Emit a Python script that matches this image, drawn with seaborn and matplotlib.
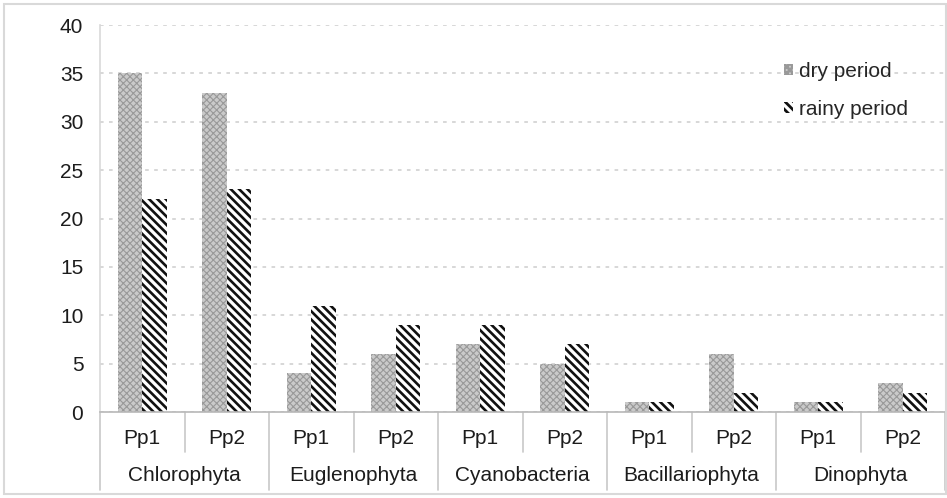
import matplotlib
matplotlib.use('Agg')
import matplotlib.pyplot as plt
import matplotlib.transforms as mtransforms
from matplotlib.patches import Rectangle
import numpy as np
import pandas as pd
import seaborn as sns

# ---- data ----
groups = ['Chlorophyta', 'Euglenophyta', 'Cyanobacteria', 'Bacillariophyta', 'Dinophyta']
sites = ['Pp1', 'Pp2']
dry = [35, 33, 4, 6, 7, 5, 1, 6, 1, 3]
rainy = [22, 23, 11, 9, 9, 7, 1, 2, 1, 2]
periods = ['dry period', 'rainy period']

keys = [f"{g}|{s}" for g in groups for s in sites]
df = pd.DataFrame({
    'key': keys * 2,
    'value': dry + rainy,
    'period': [periods[0]] * len(keys) + [periods[1]] * len(keys),
})

sns.set_style('white')
plt.rcParams['font.family'] = ['Liberation Sans', 'DejaVu Sans']
plt.rcParams['hatch.linewidth'] = 2.0

FS = 15
TXT = '#1c1c1c'

fig = plt.figure(figsize=(9.47, 4.98), dpi=100)
ax = fig.add_axes([100 / 947, 1 - 412 / 498, 845 / 947, 387 / 498])

sns.barplot(data=df, x='key', y='value', hue='period', order=keys,
            hue_order=periods, ax=ax, width=0.58, legend=False,
            palette=['#c8c8c8', 'white'])

styles = [dict(face='#cacaca', hatch='xxxxx', edge='#999999', hlw=0.8),
          dict(face='white', hatch='\\\\\\\\', edge='#111111', hlw=1.9)]

def style_patch(p, st):
    p.set_facecolor(st['face'])
    p.set_hatch(st['hatch'])
    p.set_edgecolor(st['edge'])
    p.set_linewidth(0)
    if hasattr(p, 'set_hatch_linewidth'):
        p.set_hatch_linewidth(st['hlw'])
    else:
        p._hatch_linewidth = st['hlw']

for cont, st in zip(ax.containers, styles):
    for p in cont:
        style_patch(p, st)

ax.set_xlim(-0.5, len(keys) - 0.5)
ax.set_ylim(0, 40)
ax.set_yticks(np.arange(0, 41, 5))
ax.tick_params(axis='y', length=0, labelsize=FS, pad=12, colors=TXT)
ax.yaxis.grid(True, linestyle=(0, (2, 3)), color='#d4d4d4', linewidth=1.3)
ax.set_axisbelow(True)
ax.set_xlabel('')
ax.set_ylabel('')

ax.set_xticks([])
for side in ['top', 'right']:
    ax.spines[side].set_visible(False)
ax.spines['left'].set_color('#d9d9d9')
ax.spines['bottom'].set_color('#b8b8b8')
ax.spines['left'].set_linewidth(1.2)
ax.spines['bottom'].set_linewidth(1.2)

# two-level category axis
trans = mtransforms.blended_transform_factory(ax.transData, fig.transFigure)
def fy(py):
    return 1 - py / 498

for i, k in enumerate(keys):
    ax.text(i, fy(438), k.split('|')[1], transform=trans, ha='center',
            va='center', fontsize=FS, color=TXT)
for j, g in enumerate(groups):
    ax.text(2 * j + 0.5, fy(475), g, transform=trans, ha='center',
            va='center', fontsize=FS, color=TXT)
for b in np.arange(-0.5, len(keys), 1.0):
    long_line = int(round(b + 0.5)) % 2 == 0
    y_end = fy(490) if long_line else fy(452)
    ax.plot([b, b], [fy(412), y_end], transform=trans, color='#c8c8c8',
            linewidth=1.2, clip_on=False)

handles = []
for st in styles:
    h = Rectangle((0, 0), 1, 1)
    style_patch(h, st)
    handles.append(h)
fig.legend(handles, periods, loc='upper left',
           bbox_to_anchor=(784 / 947, 1 - 62 / 498), frameon=False,
           fontsize=FS, handlelength=0.42, handleheight=0.42,
           handletextpad=0.3, labelspacing=0.9, borderpad=0,
           borderaxespad=0)

fig.patches.append(Rectangle((4 / 947, 4 / 498), 942 / 947, 490 / 498,
                             transform=fig.transFigure, fill=False,
                             edgecolor='#d9d9d9', linewidth=1.5))

fig.savefig('out.png', dpi=100)
